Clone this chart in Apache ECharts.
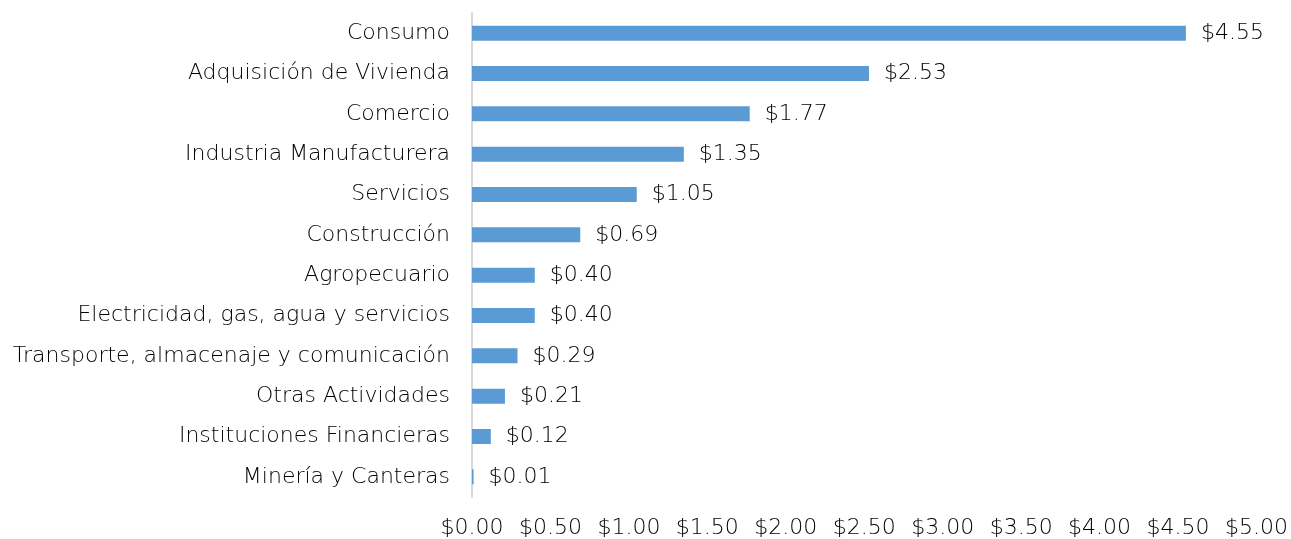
<!DOCTYPE html>
<html><head><meta charset="utf-8">
<script src="https://cdn.jsdelivr.net/npm/echarts@6/dist/echarts.min.js"></script>
<style>html,body{margin:0;padding:0;background:#fff}#c{width:1291px;height:539px}</style>
</head><body><div id="c"></div>
<script>
const categories = ["Consumo","Adquisición de Vivienda","Comercio","Industria Manufacturera","Servicios","Construcción","Agropecuario","Electricidad, gas, agua y servicios","Transporte, almacenaje y comunicación","Otras Actividades","Instituciones Financieras","Minería y Canteras"];
const values = [4.55,2.53,1.77,1.35,1.05,0.69,0.40,0.40,0.29,0.21,0.12,0.01];
const xTicks = [0,0.5,1,1.5,2,2.5,3,3.5,4,4.5,5];
const fmt = v => '$' + Number(v).toFixed(2);
const font = 'DejaVu Sans';
const fs = 22;
const fw = 200;
const col = '#000000';
const chart = echarts.init(document.getElementById('c'));
chart.setOption({
  animation:false,
  grid:{left:472,right:32,top:13,bottom:42,containLabel:false},
  xAxis:{type:'value',min:0,max:5,interval:0.5,
    axisLine:{show:false},axisTick:{show:false},splitLine:{show:false},
    axisLabel:{formatter:fmt,color:col,fontSize:fs,fontWeight:fw,fontFamily:font,margin:20}},
  yAxis:{type:'category',inverse:true,data:categories,
    axisLine:{show:true,lineStyle:{color:'#d9d9d9',width:2}},axisTick:{show:false},
    axisLabel:{color:col,fontSize:fs,fontWeight:fw,fontFamily:font,margin:22}},
  series:[{type:'bar',data:values,barWidth:15,itemStyle:{color:'#5b9bd5'},
    label:{show:true,position:'right',distance:15,formatter:p=>fmt(p.value),color:col,fontSize:fs,fontWeight:fw,fontFamily:font}}]
});
</script></body></html>
